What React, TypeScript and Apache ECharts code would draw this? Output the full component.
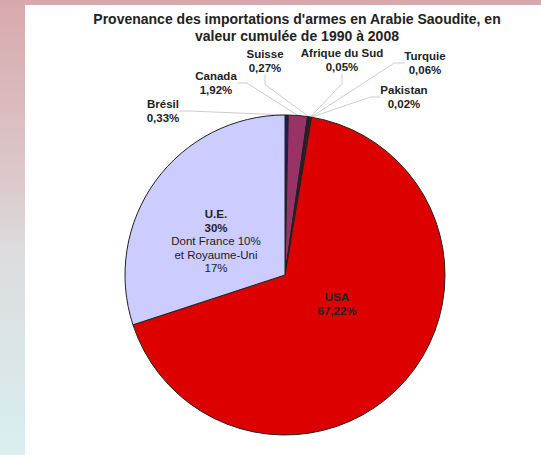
import React, { useEffect, useRef } from "react";
import * as echarts from "echarts";

const countries = ["Brésil", "Canada", "Suisse", "Afrique du Sud", "Turquie", "Pakistan", "USA", "U.E."];
const shares = [0.33, 1.92, 0.27, 0.05, 0.06, 0.02, 67.22, 30];
const sliceColors = ["#1c1c64", "#993366", "#3a1030", "#ffffcc", "#ccffff", "#660066", "#dd0000", "#ccccff"];
const ueDetail = ["Dont France 10%", "et Royaume-Uni", "17%"];
const titleLines = ["Provenance des importations d'armes en Arabie Saoudite, en", "valeur cumulée de 1990 à 2008"];

// label centres (layout only)
const labelPos: [number, number][] = [
  [163, 111],
  [216, 83],
  [265, 61],
  [342, 60],
  [425, 63],
  [404, 97],
  [337, 304],
  [216, 241],
];

const fmt = (v: number) => (Number.isInteger(v) ? String(v) : v.toFixed(2).replace(".", ",")) + "%";

export default function App() {
  const ref = useRef<HTMLDivElement>(null);
  useEffect(() => {
    if (!ref.current) return;
    const chart = echarts.init(ref.current, null, { renderer: "svg" });
    const font = "'Liberation Sans', Arial, sans-serif";
    const data = countries.map((name, i) => {
      const inside = name === "USA" || name === "U.E.";
      return {
        name,
        value: shares[i],
        itemStyle: { color: sliceColors[i] },
        labelLine: { show: !inside },
      };
    });
    chart.setOption({
      animation: false,
      backgroundColor: "transparent",
      title: {
        text: titleLines.join("\n"),
        left: 297,
        textAlign: "center",
        top: 10,
        padding: 0,
        textStyle: { fontFamily: font, fontSize: 14, fontWeight: "bold", color: "#222", lineHeight: 17 },
      },
      series: [
        {
          type: "pie",
          center: [285, 275],
          radius: 160,
          startAngle: 90,
          clockwise: true,
          avoidLabelOverlap: false,
          data,
          itemStyle: { borderColor: "#222", borderWidth: 1 },
          label: {
            show: true,
            fontFamily: font,
            fontSize: 11.5,
            fontWeight: "bold",
            color: "#222",
            lineHeight: 13.5,
            align: "center",
            formatter: (p: any) => {
              if (p.name === "U.E.") {
                return "{b|U.E.}\n{b|" + fmt(p.value) + "}\n" + ueDetail.map((t) => "{n|" + t + "}").join("\n");
              }
              return "{b|" + p.name + "}\n{b|" + fmt(p.value) + "}";
            },
            rich: {
              b: { fontFamily: font, fontSize: 11.5, fontWeight: "bold", color: "#222", lineHeight: 13.5, align: "center" },
              n: { fontFamily: font, fontSize: 11.5, fontWeight: "normal", color: "#222", lineHeight: 13.5, align: "center" },
            },
          },
          labelLine: {
            show: true,
            length: 10,
            length2: 10,
            lineStyle: { color: "#cdcdcd", width: 1 },
          },
          labelLayout: (params: any) => {
            const p = labelPos[params.dataIndex];
            return { x: p[0], y: p[1], align: "center", verticalAlign: "middle" };
          },
        },
      ],
    });
    return () => chart.dispose();
  }, []);
  return (
    <div style={{ position: "fixed", left: 0, top: 0, width: 541, height: 455, background: "#ffffff", overflow: "hidden" }}>
      <div style={{ position: "absolute", left: 0, top: 0, width: 541, height: 5, background: "#d8a9ac" }} />
      <div
        style={{
          position: "absolute",
          left: 0,
          top: 0,
          width: 25,
          height: 455,
          background: "linear-gradient(to bottom, #d8a9ac 0%, #dcc9cb 40%, #dcdcde 55%, #d9eef0 100%)",
        }}
      />
      <div ref={ref} style={{ position: "absolute", left: 0, top: 0, width: 541, height: 455 }} />
    </div>
  );
}
